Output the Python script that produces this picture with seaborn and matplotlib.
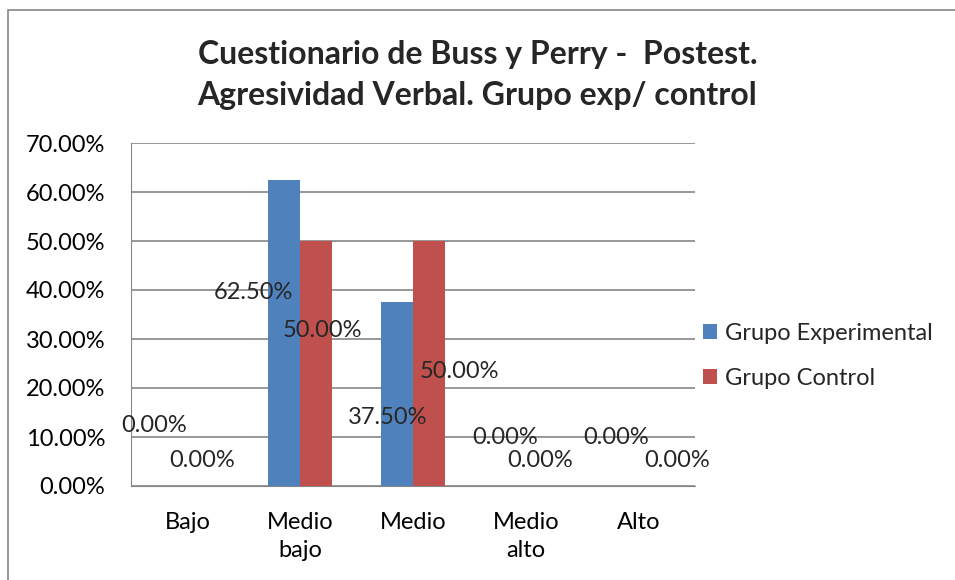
import pandas as pd
import seaborn as sns
import matplotlib.pyplot as plt
from matplotlib.patches import Rectangle
from matplotlib.ticker import FuncFormatter

categorias = ['Bajo', 'Medio\nbajo', 'Medio', 'Medio\nalto', 'Alto']
experimental = [0.0, 62.5, 37.5, 0.0, 0.0]
control = [0.0, 50.0, 50.0, 0.0, 0.0]
series = ['Grupo Experimental', 'Grupo Control']

# where Excel left the data labels (x offset from bar centre, y in % units)
lab_exp = [(-0.155, 12.4), (-0.27, 39.4), (-0.084, 13.9), (-0.04, 10.0), (-0.058, 10.0)]
lab_ctl = [(-0.01, 5.3), (0.058, 31.8), (0.27, 23.3), (-0.013, 5.3), (0.2, 5.3)]

df = pd.DataFrame({
    'cat': categorias * 2,
    'valor': experimental + control,
    'grupo': [series[0]] * 5 + [series[1]] * 5,
})

sns.set_style('white')
plt.rcParams['font.family'] = ['Lato', 'DejaVu Sans']
fs = 17
bw = 0.57

fig = plt.figure(figsize=(9.55, 5.8), dpi=100)
ax = fig.add_axes([131 / 955, 1 - 486 / 580, 564 / 955, 343 / 580])

sns.barplot(data=df, x='cat', y='valor', hue='grupo', palette=['#4F81BD', '#C0504D'],
            width=bw, saturation=1, linewidth=0, ax=ax, zorder=3)

ax.set_ylim(0, 70)
ax.set_yticks(range(0, 71, 10))
ax.yaxis.set_major_formatter(FuncFormatter(lambda v, p: f'{v:.2f}%'))
ax.set_xlim(-0.5, 4.5)
ax.grid(axis='y', color='#868686', linewidth=1.2, zorder=0)
for s in ['top', 'right']:
    ax.spines[s].set_visible(False)
ax.spines['left'].set_color('#868686')
ax.spines['bottom'].set_color('#868686')
ax.tick_params(axis='both', length=0, labelsize=fs, colors='black')
ax.tick_params(axis='y', pad=18.5)
ax.tick_params(axis='x', pad=18.5)
ax.set_xticks(range(len(categorias)))
ax.set_xticklabels(categorias, linespacing=1.45, va='top')
ax.set_xlabel('')
ax.set_ylabel('')

for i, (v, (dx, y)) in enumerate(zip(experimental, lab_exp)):
    ax.text(i - bw / 4 + dx, y, f'{v:.2f}%', ha='center', va='center', fontsize=fs, zorder=5)
for i, (v, (dx, y)) in enumerate(zip(control, lab_ctl)):
    ax.text(i + bw / 4 + dx, y, f'{v:.2f}%', ha='center', va='center', fontsize=fs, zorder=5)

ax.legend(loc='center left', bbox_to_anchor=(703 / 955, 1 - 356 / 580),
          bbox_transform=fig.transFigure, frameon=False, fontsize=fs,
          handlelength=0.6, handleheight=0.6, handletextpad=0.35, labelspacing=1.0,
          borderpad=0, borderaxespad=0)

fig.text(0.5, 1 - 64 / 580, 'Cuestionario de Buss y Perry -  Postest.', ha='center',
         va='baseline', fontsize=23, fontweight='bold')
fig.text(0.5, 1 - 105 / 580, 'Agresividad Verbal. Grupo exp/ control', ha='center',
         va='baseline', fontsize=23, fontweight='bold')

fig.patches.append(Rectangle((8 / 955, -0.1), 1.2, 1 - 10 / 580 + 0.1, transform=fig.transFigure,
                             fill=False, edgecolor='#868686', linewidth=1.2))

fig.savefig('out.png', dpi=100)
